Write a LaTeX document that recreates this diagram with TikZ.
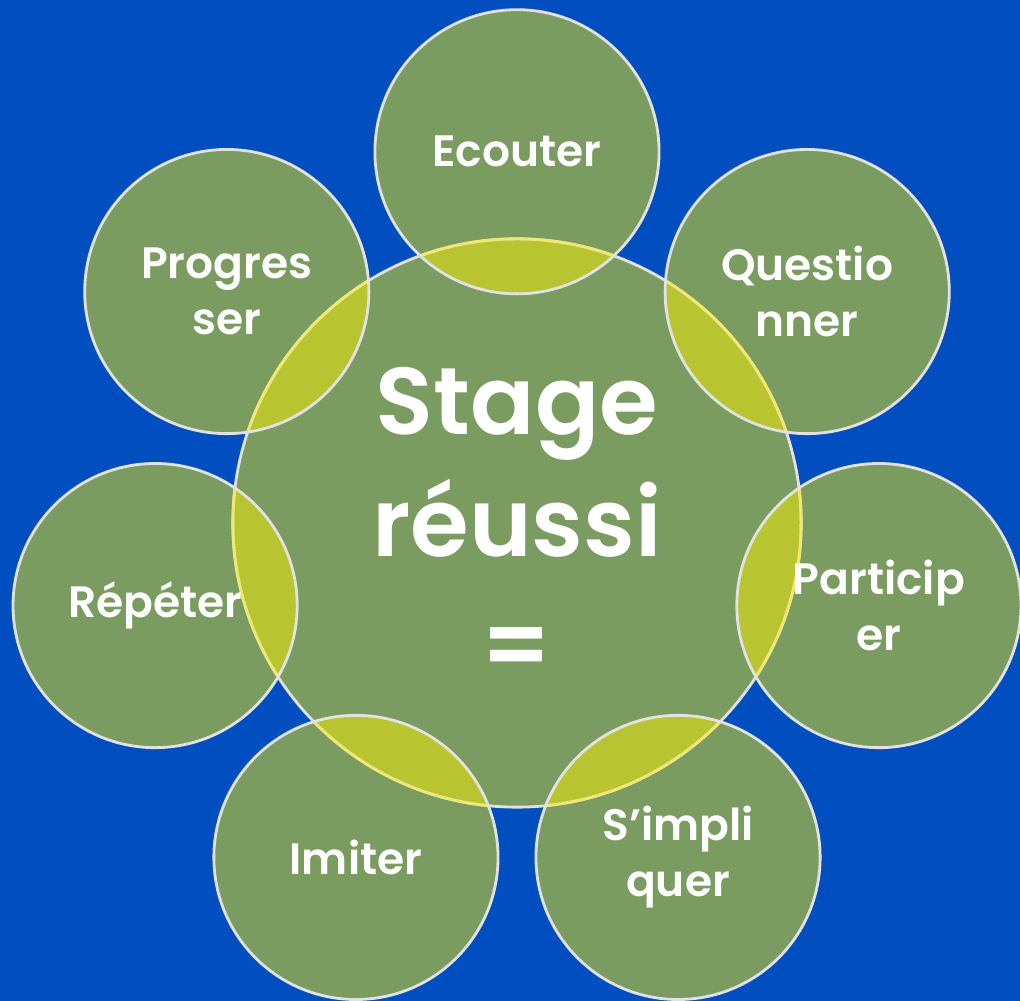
\documentclass[tikz,border=0pt]{standalone}
\usepackage{fontspec}
\setmainfont{Poppins}[BoldFont={Poppins SemiBold}]
\usetikzlibrary{positioning}

\definecolor{bgblue}{HTML}{004EBF}
\definecolor{leafgreen}{HTML}{7A9C60}
\definecolor{lensyellow}{HTML}{B8C430}
\definecolor{rimgray}{HTML}{E2E2E2}
\definecolor{rimyellow}{HTML}{F0E870}

\tikzset{
	bubble/.style={font=\bfseries\fontsize{12.5}{16}\selectfont, text=white, align=center, inner sep=0pt},
	core/.style={font=\bfseries\fontsize{27}{34.7}\selectfont, text=white, align=center, inner sep=0pt},
	rim/.style={line width=0.8pt}
}

\begin{document}
\begin{tikzpicture}[x=0.01cm,y=-0.01cm]

	\fill[bgblue] (0,0) rectangle (1020,1001);
	\useasboundingbox (0,0) rectangle (1020,1001);

	% centre and the seven petals
	\coordinate (c) at (517,523);
	\foreach \k in {0,...,6}
		\path (c) ++({90-\k*360/7}:3.71cm) coordinate (s\k);

	\foreach \k in {0,...,6}
		\fill[leafgreen] (s\k) circle (1.42cm);
	\fill[leafgreen] (c) circle (2.84cm);

	% overlaps
	\begin{scope}
		\clip (c) circle (2.84cm);
		\foreach \k in {0,...,6}
			\fill[lensyellow] (s\k) circle (1.42cm);
	\end{scope}

	% outlines
	\draw[rimgray, rim] (c) circle (2.84cm);
	\foreach \k in {0,...,6} {
		\begin{scope}
			\clip (s\k) circle (1.42cm);
			\draw[rimyellow, rim] (c) circle (2.84cm);
		\end{scope}
	}
	\foreach \k in {0,...,6}
		\draw[rimgray, rim] (s\k) circle (1.42cm);

	% labels
	\node[core] (stage) at (c) {Stage\\réussi\\=};
	\node[bubble] (ecouter) at (s0) {Ecouter};
	\node[bubble] (questionner) at (s1) {Questio\\nner};
	\node[bubble] (participer) at (s2) {Particip\\er};
	\node[bubble] (impliquer) at (s3) {S’impli\\quer};
	\node[bubble] (imiter) at (s4) {Imiter};
	\node[bubble] (repeter) at (s5) {Répéter};
	\node[bubble] (progresser) at (s6) {Progres\\ser};

\end{tikzpicture}
\end{document}
